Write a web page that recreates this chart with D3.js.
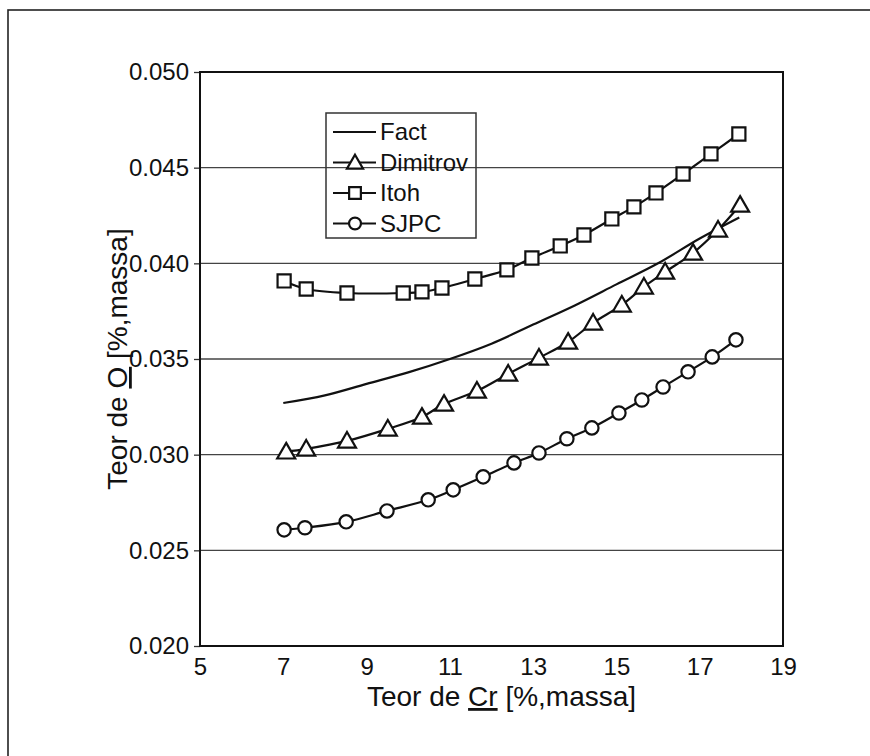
<!DOCTYPE html>
<html>
<head>
<meta charset="utf-8">
<script src="https://cdn.jsdelivr.net/npm/d3@7"></script>
<style>
  body { margin: 0; background: #fff; }
  svg { display: block; }
  text { font-family: "Liberation Sans", Arial, sans-serif; fill: #111; }
</style>
</head>
<body>
<div id="chart"></div>
<script>
// values
const xTicks = [5, 7, 9, 11, 13, 15, 17, 19];
const yTicks = [0.020, 0.025, 0.030, 0.035, 0.040, 0.045, 0.050];

const factCr = [7.0, 8, 9, 10, 11, 12, 13, 14, 15, 16, 17, 17.95];
const factO  = [0.0327, 0.0331, 0.0337, 0.0343, 0.0350, 0.0358, 0.0368, 0.0378, 0.0389, 0.0400, 0.0413, 0.0424];

const dimitrovCr = [7.07, 7.55, 8.53, 9.51, 10.33, 10.86, 11.65, 12.40, 13.14, 13.84, 14.44, 15.13, 15.66, 16.17, 16.84, 17.44, 17.97];
const dimitrovO  = [0.03015, 0.03030, 0.03072, 0.03135, 0.03197, 0.03265, 0.03333, 0.03422, 0.03506, 0.03589, 0.03689, 0.03783, 0.03877, 0.03955, 0.04054, 0.04175, 0.04305];

const itohCr = [7.02, 7.55, 8.53, 9.88, 10.33, 10.81, 11.60, 12.37, 12.97, 13.65, 14.22, 14.89, 15.42, 15.95, 16.60, 17.27, 17.94];
const itohO  = [0.03908, 0.03866, 0.03845, 0.03845, 0.03851, 0.03871, 0.03918, 0.03966, 0.04028, 0.04091, 0.04148, 0.04232, 0.04295, 0.04368, 0.04467, 0.04572, 0.04676];

const sjpcCr = [7.02, 7.52, 8.51, 9.49, 10.48, 11.08, 11.80, 12.54, 13.14, 13.81, 14.41, 15.06, 15.61, 16.12, 16.72, 17.30, 17.87];
const sjpcO  = [0.02607, 0.02618, 0.02649, 0.02706, 0.02764, 0.02816, 0.02884, 0.02957, 0.03009, 0.03083, 0.03140, 0.03218, 0.03286, 0.03354, 0.03433, 0.03511, 0.03600];

const seriesNames = ["Fact", "Dimitrov", "Itoh", "SJPC"];

const width = 870, height = 756;
const margin = { top: 72, right: 87, bottom: 110, left: 200 };

const svg = d3.select("#chart").append("svg")
    .attr("width", width)
    .attr("height", height);

// outer frame of the figure (runs off the right / bottom edge)
svg.append("rect")
    .attr("x", 8).attr("y", 10)
    .attr("width", width + 20).attr("height", height + 20)
    .attr("fill", "none")
    .attr("stroke", "#222")
    .attr("stroke-width", 1.6);

const x = d3.scaleLinear().domain([5, 19]).range([margin.left, width - margin.right]);
const y = d3.scaleLinear().domain([0.020, 0.050]).range([height - margin.bottom, margin.top]);

// horizontal grid
svg.append("g")
    .selectAll("line")
    .data(yTicks.slice(1, -1))
    .join("line")
      .attr("x1", x(5)).attr("x2", x(19))
      .attr("y1", d => y(d)).attr("y2", d => y(d))
      .attr("stroke", "#444")
      .attr("stroke-width", 1.3);

// axes
const yAxis = svg.append("g")
    .attr("transform", `translate(${x(5)},0)`)
    .call(d3.axisLeft(y).tickValues(yTicks).tickFormat(d3.format(".3f")).tickSize(6).tickPadding(5));

const xAxis = svg.append("g")
    .attr("transform", `translate(0,${y(0.020)})`)
    .call(d3.axisBottom(x).tickValues(xTicks).tickFormat(d3.format("d")).tickSize(0).tickPadding(12));

[xAxis, yAxis].forEach(a => {
    a.select(".domain").remove();
    a.selectAll("text").style("font-size", "24px").attr("fill", "#111");
    a.selectAll("line").attr("stroke", "#333").attr("stroke-width", 1.3);
});
xAxis.selectAll(".tick line").remove();

// plot frame
svg.append("rect")
    .attr("x", x(5)).attr("y", y(0.050))
    .attr("width", x(19) - x(5)).attr("height", y(0.020) - y(0.050))
    .attr("fill", "none")
    .attr("stroke", "#111")
    .attr("stroke-width", 2);

// axis titles
const xt = svg.append("text")
    .attr("x", (x(5) + x(19)) / 2 + 10)
    .attr("y", 706)
    .attr("text-anchor", "middle")
    .style("font-size", "28px");
xt.append("tspan").text("Teor de ");
xt.append("tspan").text("Cr").style("text-decoration", "underline");
xt.append("tspan").text(" [%,massa]");

const yt = svg.append("text")
    .attr("transform", `translate(127,${(y(0.020) + y(0.050)) / 2}) rotate(-90)`)
    .attr("text-anchor", "middle")
    .style("font-size", "28px");
yt.append("tspan").text("Teor de ");
yt.append("tspan").text("O").style("text-decoration", "underline");
yt.append("tspan").text(" [%,massa]");

// series
const zipPts = (xs, ys) => xs.map((v, i) => [v, ys[i]]);
const series = [
    { name: "Fact", pts: zipPts(factCr, factO), marker: null },
    { name: "Dimitrov", pts: zipPts(dimitrovCr, dimitrovO), marker: d3.symbolTriangle, size: 140, dy: 1.5 },
    { name: "Itoh", pts: zipPts(itohCr, itohO), marker: d3.symbolSquare, size: 172, dy: 0 },
    { name: "SJPC", pts: zipPts(sjpcCr, sjpcO), marker: d3.symbolCircle, size: 140, dy: 0 }
];

const line = d3.line()
    .x(d => x(d[0]))
    .y(d => y(d[1]))
    .curve(d3.curveCatmullRom.alpha(0.5));

const plot = svg.append("g");

series.forEach(s => {
    plot.append("path")
        .datum(s.pts)
        .attr("d", line)
        .attr("fill", "none")
        .attr("stroke", "#111")
        .attr("stroke-width", 2.2);
});

series.filter(s => s.marker).forEach(s => {
    plot.append("g")
        .selectAll("path")
        .data(s.pts)
        .join("path")
          .attr("transform", d => `translate(${x(d[0])},${y(d[1]) + s.dy})`)
          .attr("d", d3.symbol(s.marker, s.size))
          .attr("fill", "#fff")
          .attr("stroke", "#111")
          .attr("stroke-width", 2.2);
});

// legend (no fill, grid shows through)
const legend = svg.append("g");
legend.append("rect")
    .attr("x", 326).attr("y", 113)
    .attr("width", 150).attr("height", 125)
    .attr("fill", "none")
    .attr("stroke", "#333")
    .attr("stroke-width", 1.5);

series.forEach((s, i) => {
    const ly = 132 + i * 30.5;
    const row = legend.append("g").attr("transform", `translate(0,${ly})`);
    row.append("line")
        .attr("x1", 333).attr("x2", 376)
        .attr("y1", 0).attr("y2", 0)
        .attr("stroke", "#111")
        .attr("stroke-width", 2.2);
    if (s.marker) {
        row.append("path")
            .attr("transform", `translate(355,${s.dy})`)
            .attr("d", d3.symbol(s.marker, s.size * 0.8))
            .attr("fill", "#fff")
            .attr("stroke", "#111")
            .attr("stroke-width", 2.2);
    }
    row.append("text")
        .attr("x", 380)
        .attr("y", 8)
        .style("font-size", "24px")
        .text(seriesNames[i]);
});
</script>
</body>
</html>
